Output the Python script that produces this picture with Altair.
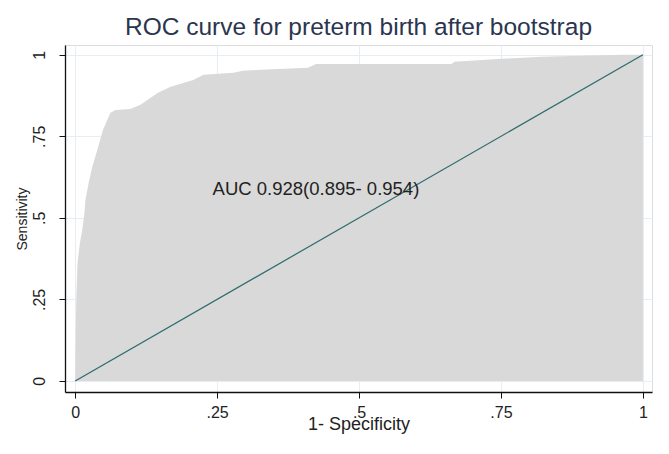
import altair as alt
import pandas as pd

# ROC curve points
fpr = [0.0, 0.001, 0.002, 0.004, 0.008, 0.012, 0.016, 0.018, 0.024, 0.030, 0.039, 0.049,
       0.062, 0.071, 0.097, 0.115, 0.145, 0.168, 0.208, 0.226, 0.279, 0.295, 0.327,
       0.410, 0.424, 0.663, 0.668, 0.751, 0.822, 0.963, 1.0]
tpr = [0.0, 0.15, 0.26, 0.36, 0.42, 0.46, 0.51, 0.555, 0.61, 0.656, 0.709, 0.77,
       0.822, 0.831, 0.834, 0.847, 0.883, 0.902, 0.923, 0.939, 0.945, 0.951, 0.954,
       0.960, 0.972, 0.972, 0.979, 0.988, 0.994, 1.0, 1.0]

diag_x = [0.0, 1.0]
diag_y = [0.0, 1.0]

tick_values = [0, 0.25, 0.5, 0.75, 1]

auc_label = ["AUC 0.928(0.895- 0.954)"]
auc_x = [0.242]
auc_y = [0.589]

title = "ROC curve for preterm birth after bootstrap"

roc = pd.DataFrame({"fpr": fpr, "tpr": tpr})
diag = pd.DataFrame({"fpr": diag_x, "tpr": diag_y})
lab = pd.DataFrame({"fpr": auc_x, "tpr": auc_y, "t": auc_label})

label_expr = ("datum.value == 0 ? '0' : datum.value == 1 ? '1' : "
              "replace(format(datum.value, '.2~f'), '0.', '.')")

xscale = alt.Scale(domain=[-0.018, 1.016], nice=False, zero=False)
yscale = alt.Scale(domain=[-0.034, 1.03], nice=False, zero=False)

xaxis = alt.Axis(values=tick_values, labelExpr=label_expr, title="1- Specificity",
                 titleFontSize=18, titleFont="Liberation Sans", titleFontWeight="normal",
                 titleColor="#222222", titlePadding=-5,
                 labelFontSize=16, labelFont="Liberation Sans", labelColor="#222222",
                 labelPadding=6, tickSize=6, tickColor="#111111",
                 domainColor="#111111", domainWidth=1.3,
                 grid=True, gridColor="#e6edf3", gridWidth=1)
yaxis = alt.Axis(values=tick_values, labelExpr=label_expr, title="Sensitivity",
                 titleFontSize=14, titleFont="Liberation Sans", titleFontWeight="normal",
                 titleColor="#222222", titlePadding=2,
                 labelFontSize=16, labelFont="Liberation Sans", labelColor="#222222",
                 labelAngle=-90, labelAlign="center", labelBaseline="bottom",
                 labelPadding=12, tickSize=6, tickColor="#111111",
                 domainColor="#111111", domainWidth=1.3,
                 grid=True, gridColor="#e6edf3", gridWidth=1)

area = alt.Chart(roc).mark_area(color="#d9d9d9", opacity=1).encode(
    x=alt.X("fpr:Q", scale=xscale, axis=xaxis),
    y=alt.Y("tpr:Q", scale=yscale, axis=yaxis),
    y2=alt.datum(0),
)

line = alt.Chart(diag).mark_line(color="#2e6b6b", strokeWidth=1.2).encode(
    x=alt.X("fpr:Q", scale=xscale),
    y=alt.Y("tpr:Q", scale=yscale),
)

text = alt.Chart(lab).mark_text(align="left", baseline="middle", fontSize=18.5,
                                font="Liberation Sans", color="#222222").encode(
    x=alt.X("fpr:Q", scale=xscale),
    y=alt.Y("tpr:Q", scale=yscale),
    text="t:N",
)

chart = alt.layer(area, line, text).properties(
    width=587, height=347,
    title=alt.TitleParams(title, fontSize=24.5, font="Liberation Sans", fontWeight="normal",
                          color="#2b3550", anchor="middle", offset=5),
    autosize=alt.AutoSizeParams(type="none"),
    padding={"left": 57, "top": 37, "right": 9, "bottom": 54},
).configure_view(stroke=None).configure(background="white")

chart.save("out.html", embed_options={"renderer": "svg", "actions": False})
